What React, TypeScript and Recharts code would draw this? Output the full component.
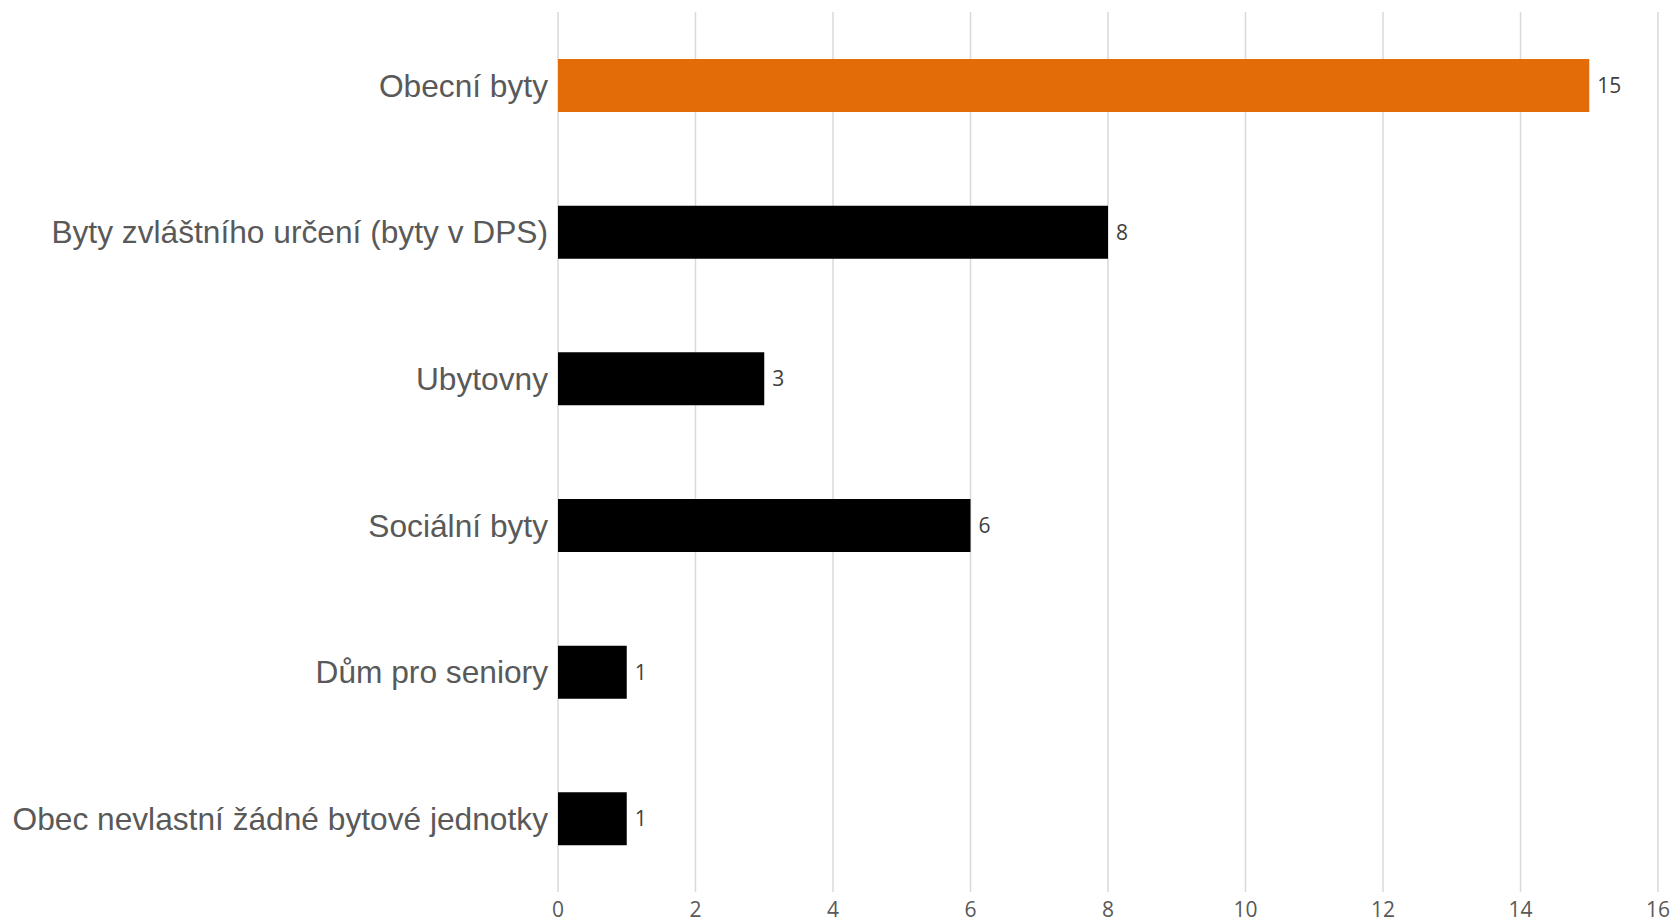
import { BarChart, Bar, XAxis, YAxis, CartesianGrid, Cell, LabelList } from "recharts"

// Typ bytových jednotek ve vlastnictví obce
const categories = [
  "Obecní byty",
  "Byty zvláštního určení (byty v DPS)",
  "Ubytovny",
  "Sociální byty",
  "Dům pro seniory",
  "Obec nevlastní žádné bytové jednotky",
]
const counts = [15, 8, 3, 6, 1, 1]
const barColors = ["#E36C09", "#000000", "#000000", "#000000", "#000000", "#000000"]
const xTicks = [0, 2, 4, 6, 8, 10, 12, 14, 16]

const data = categories.map((name, i) => ({ name, value: counts[i] }))

const labelFont = "'Liberation Sans', Arial, sans-serif"
const numFont = "'Open Sans', sans-serif"

export default function App() {
  return (
    <div style={{ position: "absolute", left: 0, top: 0, width: 1675, height: 923, background: "#fff" }}>
      <BarChart
        width={1675}
        height={923}
        data={data}
        layout="vertical"
        margin={{ top: 12, right: 17, left: 0, bottom: 0 }}
      >
        <CartesianGrid horizontal={false} stroke="#d9d9d9" strokeWidth={1.5} />
        <XAxis
          type="number"
          domain={[0, 16]}
          ticks={xTicks}
          axisLine={false}
          tickLine={false}
          tickMargin={4}
          height={31}
          interval={0}
          tick={{ fill: "#595959", fontSize: 21, fontFamily: numFont }}
        />
        <YAxis
          type="category"
          dataKey="name"
          width={558}
          axisLine={false}
          tickLine={false}
          tickSize={0}
          tickMargin={10}
          interval={0}
          tick={{ fill: "#595959", fontSize: 31.7, fontFamily: labelFont }}
        />
        <Bar dataKey="value" barSize={53} isAnimationActive={false}>
          {data.map((d, i) => (
            <Cell key={d.name} fill={barColors[i]} />
          ))}
          <LabelList
            dataKey="value"
            position="right"
            offset={8}
            fill="#404040"
            fontSize={21}
            fontFamily={numFont}
          />
        </Bar>
      </BarChart>
    </div>
  )
}
